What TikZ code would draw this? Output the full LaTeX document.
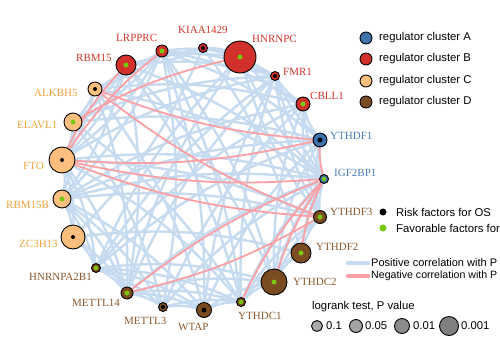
\documentclass[tikz,border=0pt]{standalone}
\usepackage{fontspec}
\setmainfont{Liberation Serif}
\setsansfont{Liberation Sans}
\pgfdeclarelayer{bg}
\pgfsetlayers{bg,main}
\definecolor{cA}{HTML}{3D72AC}
\definecolor{cB}{HTML}{D2302A}
\definecolor{cC}{HTML}{FDBE7E}
\definecolor{cD}{HTML}{7B4B22}
\definecolor{tA}{HTML}{4A7EB5}
\definecolor{tB}{HTML}{D2352A}
\definecolor{tC}{HTML}{F0A33C}
\definecolor{tD}{HTML}{8B5A2E}
\definecolor{gdot}{HTML}{78C80F}
\definecolor{eBlue}{HTML}{C6DBEF}
\definecolor{eRed}{HTML}{FBA0A5}
\newcommand\gene[7]{%
  \node[gnode,minimum size=#4pt,fill=#5] (n#1) at (#2,#3) {};
  \node[dotn,minimum size=#7pt,fill=#6] (d#1) at (n#1.center) {};}
\begin{document}
\begin{tikzpicture}[x=1pt,y=-1pt,
  gnode/.style={circle,draw=black,line width=0.9pt,inner sep=0pt},
  dotn/.style={circle,inner sep=0pt},
  lab/.style={anchor=west,inner sep=0pt,font=\fontsize{11}{13}\selectfont},
  leg/.style={anchor=west,inner sep=0pt,font=\sffamily\fontsize{11.3}{13}\selectfont},
  posedge/.style={draw=eBlue,line width=2.4pt},
  negedge/.style={draw=eRed,line width=1.8pt}]
\useasboundingbox (0,0) rectangle (500,360);
% gene nodes
\gene{1}{240}{57}{32}{cB}{gdot}{5}
\gene{2}{275}{76}{9}{cB}{black}{4}
\gene{3}{303}{104}{14}{cB}{gdot}{5}
\gene{4}{320}{140}{14}{cA}{black}{5}
\gene{5}{324}{179}{9}{cA}{gdot}{4.5}
\gene{6}{320}{217}{13}{cD}{gdot}{5}
\gene{7}{301}{253}{20}{cD}{gdot}{5}
\gene{8}{274}{282}{26}{cD}{gdot}{5}
\gene{9}{241}{302}{9}{cD}{gdot}{4.5}
\gene{10}{204}{310}{15}{cD}{black}{5}
\gene{11}{163}{307}{9}{cD}{black}{4}
\gene{12}{127}{293}{12}{cD}{gdot}{5}
\gene{13}{96}{268}{9}{cD}{gdot}{4.5}
\gene{14}{73}{237}{24}{cC}{black}{4}
\gene{15}{62}{199}{18}{cC}{gdot}{5}
\gene{16}{62}{160}{26}{cC}{black}{4}
\gene{17}{73}{122}{18}{cC}{gdot}{5}
\gene{18}{95}{89}{14}{cC}{black}{4}
\gene{19}{126}{65}{20}{cB}{gdot}{5}
\gene{20}{162}{51}{12}{cB}{gdot}{5}
\gene{21}{203}{48}{9}{cB}{black}{4}
% labels
\node[lab,text=tB] (l1) at (252,39) {HNRNPC};
\node[lab,text=tB] (l2) at (283,72) {FMR1};
\node[lab,text=tB] (l3) at (310,96) {CBLL1};
\node[lab,text=tA] (l4) at (330,136) {YTHDF1};
\node[lab,text=tA] (l5) at (334,173) {IGF2BP1};
\node[lab,text=tD] (l6) at (330,212) {YTHDF3};
\node[lab,text=tD] (l7) at (316,247) {YTHDF2};
\node[lab,text=tD] (l8) at (293,282) {YTHDC2};
\node[lab,text=tD] (l9) at (238,316) {YTHDC1};
\node[lab,text=tD] (l10) at (178,327) {WTAP};
\node[lab,text=tD] (l11) at (124,321) {METTL3};
\node[lab,text=tD] (l12) at (72,303) {METTL14};
\node[lab,text=tD] (l13) at (29,277) {HNRNPA2B1};
\node[lab,text=tC] (l14) at (19,244) {ZC3H13};
\node[lab,text=tC] (l15) at (6,205) {RBM15B};
\node[lab,text=tC] (l16) at (23,166) {FTO};
\node[lab,text=tC] (l17) at (17,125) {ELAVL1};
\node[lab,text=tC] (l18) at (34,93) {ALKBH5};
\node[lab,text=tB] (l19) at (76,58) {RBM15};
\node[lab,text=tB] (l20) at (116,38) {LRPPRC};
\node[lab,text=tB] (l21) at (178,30) {KIAA1429};
% edges
\begin{pgfonlayer}{bg}
\foreach \i in {1,...,20}{
  \pgfmathtruncatemacro\js{\i+1}
  \foreach \j in {\js,...,21}{
    \pgfmathtruncatemacro\dd{\j-\i}
    \pgfmathtruncatemacro\hh{mod(3*\i*\i+5*\j*\j+\i*\j,7)}
    \pgfmathtruncatemacro\ok{(\dd<3)||(\dd>18)||(\hh<2)}
    \ifnum\ok=1 \draw[posedge] (n\i) to[bend right=10] (n\j);\fi
  }}
\foreach \a/\b in {20/16,19/16,1/17,18/4,18/6,16/4,16/5,16/6,4/5,5/8,5/9,5/12,12/6,5/7}
  \draw[negedge] (n\a) to[bend right=8] (n\b);
\end{pgfonlayer}
% legend: clusters
\node[gnode,minimum size=12pt,fill=cA] (ka) at (366,38) {};
\node[gnode,minimum size=12pt,fill=cB] (kb) at (366,59) {};
\node[gnode,minimum size=12pt,fill=cC] (kc) at (366,81) {};
\node[gnode,minimum size=12pt,fill=cD] (kd) at (366,102) {};
\node[leg] (ta) at (379,38) {regulator cluster A};
\node[leg] (tb) at (379,59) {regulator cluster B};
\node[leg] (tc) at (379,81) {regulator cluster C};
\node[leg] (td) at (379,102) {regulator cluster D};
% legend: factors
\node[dotn,minimum size=7pt,fill=black] (kr) at (383,212) {};
\node[dotn,minimum size=7pt,fill=gdot] (kf) at (383,228) {};
\node[leg] (tr) at (396,212) {Risk factors for OS};
\node[leg] (tf) at (396,228) {Favorable factors for};
% legend: correlations
\coordinate (pa) at (348,263);
\coordinate (pb) at (368,263);
\coordinate (na) at (348,276);
\coordinate (nb) at (368,276);
\draw[draw=eBlue,line width=4.5pt,line cap=round] (pa) -- (pb);
\draw[draw=eRed,line width=4.5pt,line cap=round] (na) -- (nb);
\node[leg,font=\sffamily\fontsize{11}{13}\selectfont] (tp) at (371,263) {Positive correlation with P};
\node[leg,font=\sffamily\fontsize{10.6}{13}\selectfont] (tn) at (371,276) {Negative correlation with P};
% legend: sizes
\node[leg] (tl) at (312,307) {logrank test, P value};
\node[gnode,minimum size=11pt,fill=black!33] (s1) at (317,326) {};
\node[gnode,minimum size=13pt,fill=black!36] (s2) at (356,326) {};
\node[gnode,minimum size=15pt,fill=black!45] (s3) at (402,326) {};
\node[gnode,minimum size=19pt,fill=black!50] (s4) at (449,326) {};
\node[leg] (v1) at (326,326) {0.1};
\node[leg] (v2) at (365,326) {0.05};
\node[leg] (v3) at (413,326) {0.01};
\node[leg] (v4) at (461,326) {0.001};
\end{tikzpicture}
\end{document}
